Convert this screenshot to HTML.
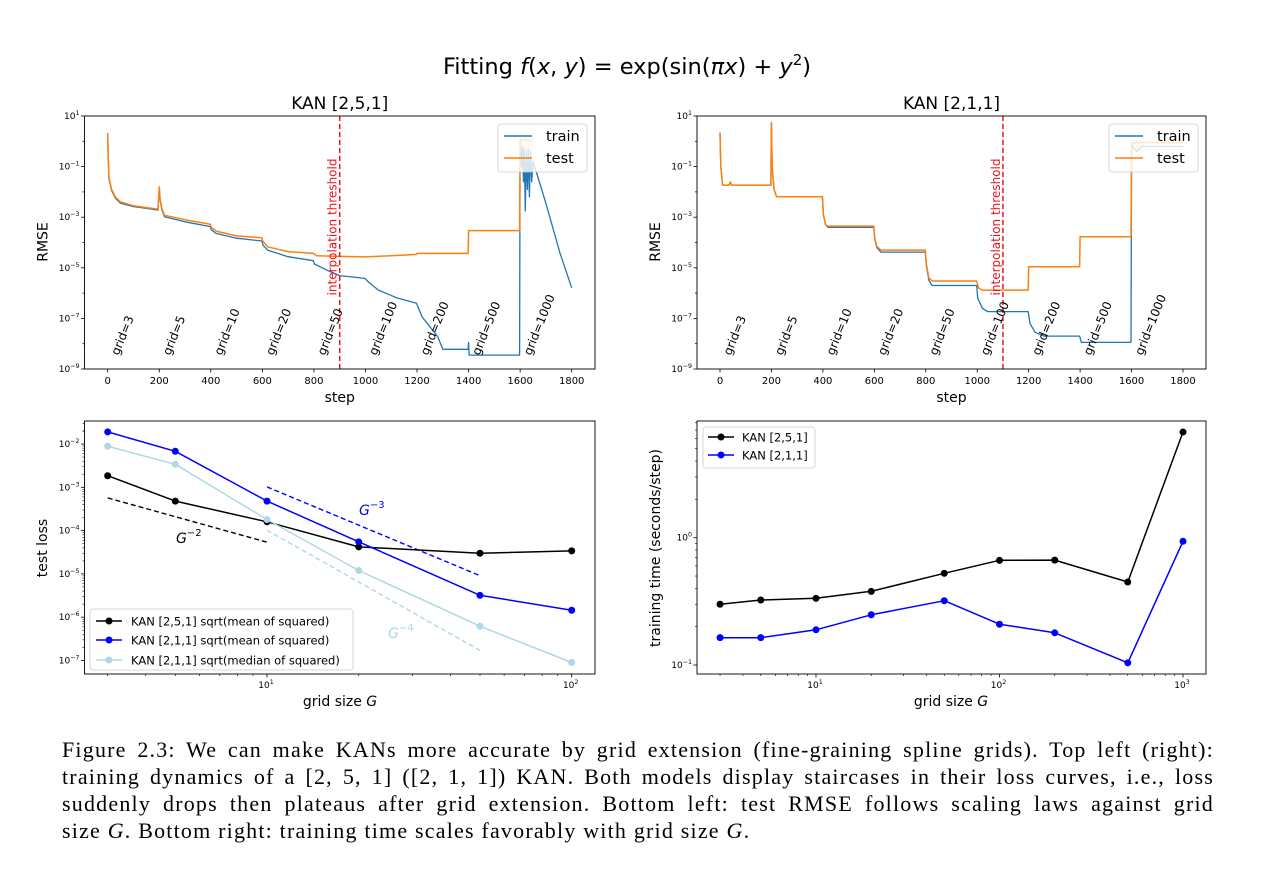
<!DOCTYPE html>
<html><head><meta charset="utf-8">
<style>
html,body{margin:0;padding:0;background:#fff;}
body{width:1270px;height:880px;overflow:hidden;position:relative;}
svg{position:absolute;left:0;top:0;}
text{font-family:"DejaVu Sans","Liberation Sans",sans-serif;}
#caption{position:absolute;left:62px;top:736px;width:1152px;font-family:"Liberation Serif",serif;font-size:22px;letter-spacing:1.2px;line-height:27px;color:#000;}
#caption div{text-align:justify;text-align-last:justify;white-space:nowrap;}
#caption div.last{text-align-last:left;}
</style></head>
<body>
<svg id="fig" width="1270" height="730" viewBox="0 0 1270 730" xmlns="http://www.w3.org/2000/svg"></svg>
<div id="caption">
<div>Figure 2.3: We can make KANs more accurate by grid extension (fine-graining spline grids). Top left (right):</div>
<div>training dynamics of a [2, 5, 1] ([2, 1, 1]) KAN. Both models display staircases in their loss curves, i.e., loss</div>
<div>suddenly drops then plateaus after grid extension. Bottom left: test RMSE follows scaling laws against grid</div>
<div class="last">size <i>G</i>. Bottom right: training time scales favorably with grid size <i>G</i>.</div>
</div>
<script>
// ---------- Top-left data: KAN [2,5,1] (log10 RMSE) ----------
const tlTrainSteps = [0,2,5,15,30,50,100,150,195,200,203,210,220,300,398,402,420,500,598,602,620,700,798,802,850,900,998,1010,1050,1120,1198,1220,1250,1280,1300,1398,1400,1402,1598,1600,1606,1609,1613,1616,1620,1624,1628,1632,1636,1640,1645,1650,1700,1729,1755,1800];
const tlTrainLog = [0.32,-0.6,-1.5,-1.95,-2.25,-2.45,-2.58,-2.65,-2.72,-1.82,-2.3,-2.7,-2.98,-3.18,-3.37,-3.5,-3.64,-3.83,-3.94,-4.1,-4.3,-4.56,-4.72,-4.85,-5.09,-5.31,-5.42,-5.55,-5.88,-6.18,-6.4,-6.95,-7.33,-7.72,-8.22,-8.22,-7.95,-8.45,-8.45,0.05,-1.0,-0.2,-1.6,-0.3,-2.75,-0.4,-1.9,-0.3,-2.2,-0.4,-1.6,-0.78,-2.45,-3.5,-4.43,-5.79];
const tlTestSteps = [0,2,5,15,30,50,100,150,195,200,203,210,220,300,398,402,420,500,598,602,620,700,798,810,900,1000,1100,1198,1200,1398,1400,1598,1600,1650];
const tlTestLog = [0.32,-0.6,-1.45,-1.9,-2.2,-2.4,-2.55,-2.62,-2.68,-1.8,-2.25,-2.65,-2.92,-3.1,-3.28,-3.4,-3.55,-3.74,-3.81,-3.95,-4.17,-4.36,-4.43,-4.52,-4.55,-4.57,-4.52,-4.47,-4.43,-4.43,-3.53,-3.53,0.08,0.03];
// ---------- Top-right data: KAN [2,1,1] ----------
const trTrainSteps = [0,3,10,35,40,45,198,200,203,210,220,398,402,410,420,598,602,610,625,798,802,812,825,998,1002,1020,1040,1198,1205,1225,1260,1398,1405,1598,1600,1620,1640,1800];
const trTrainLog = [0.34,-1.0,-1.73,-1.73,-1.65,-1.73,-1.73,0.74,-1.0,-1.9,-2.19,-2.19,-2.9,-3.3,-3.4,-3.4,-3.9,-4.2,-4.38,-4.38,-4.9,-5.5,-5.7,-5.7,-6.2,-6.6,-6.73,-6.73,-7.2,-7.55,-7.7,-7.7,-7.95,-7.95,-0.15,-0.4,-0.2,-0.2];
const trTestSteps = [0,3,10,35,40,45,198,200,203,210,220,398,402,410,420,598,602,610,625,798,802,812,825,998,1005,1020,1198,1200,1398,1400,1598,1600,1800];
const trTestLog = [0.34,-1.0,-1.73,-1.73,-1.6,-1.73,-1.73,0.74,-1.0,-1.9,-2.19,-2.19,-2.9,-3.3,-3.35,-3.35,-3.85,-4.15,-4.3,-4.3,-4.85,-5.4,-5.52,-5.52,-5.8,-5.88,-5.88,-4.96,-4.96,-3.77,-3.77,-0.05,-0.05];
const gridLabels = ["grid=3","grid=5","grid=10","grid=20","grid=50","grid=100","grid=200","grid=500","grid=1000"];
const stepTicks = [0,200,400,600,800,1000,1200,1400,1600,1800];
const rmseTickExps = [1,-1,-3,-5,-7,-9];
const tlThreshold = 900;
const trThreshold = 1100;
// ---------- Bottom-left data ----------
const blGrid = [3,5,10,20,50,100];
const bl251Mean = [1.85e-3,4.8e-4,1.6e-4,4.2e-5,3.0e-5,3.4e-5];
const bl211Mean = [1.9e-2,6.8e-3,4.8e-4,5.5e-5,3.2e-6,1.45e-6];
const bl211Median = [8.9e-3,3.4e-3,1.8e-4,1.2e-5,6.2e-7,9e-8];
const refG2 = {g:[3,10], v:[5.7e-4,5.4e-5]};
const refG3 = {g:[10,50], v:[1.02e-3,9.1e-6]};
const refG4 = {g:[10,50], v:[1.02e-4,1.7e-7]};
const blYTickExps = [-2,-3,-4,-5,-6,-7];
// ---------- Bottom-right data ----------
const brGrid = [3,5,10,20,50,100,200,500,1000];
const br251Time = [0.30,0.324,0.334,0.379,0.525,0.664,0.667,0.449,6.76];
const br211Time = [0.164,0.164,0.189,0.248,0.32,0.209,0.179,0.104,0.937];
const brYTickExps = [0,-1];

const NS = "http://www.w3.org/2000/svg";
const svg = document.getElementById('fig');
function el(tag, parent){ const e=document.createElementNS(NS,tag); (parent||svg).appendChild(e); return e; }
function set(e, o){ for(const k in o) e.setAttribute(k,o[k]); return e; }
function pow10Label(g,x,y,exp,anchor,size){
  const t=el('text',g); set(t,{x:x,y:y,'font-size':size,'text-anchor':anchor});
  t.appendChild(document.createTextNode('10'));
  const s=el('tspan',t); set(s,{'font-size':size*0.7,dy:-size*0.45}); s.textContent=String(exp).replace('-','\u2212');
  return t;
}
function frame(g,x0,y0,x1,y1){
  const r=el('rect',g); set(r,{x:x0,y:y0,width:x1-x0,height:y1-y0,fill:'none',stroke:'#000','stroke-width':0.9});
   
}
function polyline(g,pts,color,w,dash){
  const p=el('polyline',g); set(p,{points:pts.map(q=>q[0].toFixed(1)+','+q[1].toFixed(1)).join(' '),fill:'none',stroke:color,'stroke-width':w,'stroke-linejoin':'round'});
  if(dash) p.setAttribute('stroke-dasharray',dash);
  return p;
}

// ===== Suptitle =====
{
  const t=el('text'); set(t,{x:627,y:74,'font-size':22.5,'text-anchor':'middle'});
   
  t.innerHTML='Fitting <tspan font-style="italic">f</tspan>(<tspan font-style="italic">x</tspan>, <tspan font-style="italic">y</tspan>) = exp(sin(<tspan font-style="italic">πx</tspan>) + <tspan font-style="italic">y</tspan><tspan font-size="15" dy="-9">2</tspan><tspan dy="9">)</tspan>';
}

// ===== Top panels =====
function topPanel(name,title,x0,x1,zeroX,x1800,trS,trL,teS,teL,thr){
  const g=el('g');  
  const y0=116,y1=369;
  const sx=s=>zeroX+(x1800-zeroX)*s/1800;
  const sy=l=>y0+(1-l)*(y1-y0)/10;
  const cg=el('g',g);  
  const sh=el('rect',cg); set(sh,{x:sx(1600),y:sy(0.05),width:sx(1650)-sx(1600),height:sy(-0.4)-sy(0.05),fill:'#ffd9b8',opacity:0.8});
   
  const tr=polyline(cg,trS.map((s,i)=>[sx(s),sy(trL[i])]),'#1f77b4',1.3);
   
  const te=polyline(cg,teS.map((s,i)=>[sx(s),sy(teL[i])]),'#ff7f0e',1.5);
   
  const th=el('line',cg); set(th,{x1:sx(thr),x2:sx(thr),y1:y0,y2:y1,stroke:'#e8141c','stroke-width':1.5,'stroke-dasharray':'5,3'});
   
  const tt=el('text',cg); set(tt,{x:0,y:0,'font-size':12,fill:'#e8141c','text-anchor':'middle',transform:`translate(${sx(thr)-3},227) rotate(-90)`});
  tt.textContent='interpolation threshold';
   
  gridLabels.forEach((lb,i)=>{
    const t=el('text',cg); set(t,{x:0,y:0,'font-size':12,transform:`translate(${sx(42+200*i)},356) rotate(-68)`});
    t.textContent=lb;
     
  });
  frame(g,x0,y0,x1,y1);
  stepTicks.forEach(s=>{
    const l=el('line',g); set(l,{x1:sx(s),x2:sx(s),y1:y1,y2:y1+3.5,stroke:'#000','stroke-width':0.8});
    const t=el('text',g); set(t,{x:sx(s),y:y1+15,'font-size':10,'text-anchor':'middle'}); t.textContent=s;
     
  });
  for(let e=1;e>=-9;e--){
    const l=el('line',g); set(l,{x1:x0-(e%2?3.5:2),x2:x0,y1:sy(e),y2:sy(e),stroke:'#000','stroke-width':0.8});
  }
  rmseTickExps.forEach(e=>{
    const t=pow10Label(g,x0-5,sy(e)+3,e,'end',9);
     
  });
  const xl=el('text',g); set(xl,{x:(x0+x1)/2,y:402,'font-size':14,'text-anchor':'middle'}); xl.textContent='step';
   
  const yl=el('text',g); set(yl,{x:0,y:0,'font-size':14,'text-anchor':'middle',transform:`translate(${x0-37},242) rotate(-90)`}); yl.textContent='RMSE';
   
  const ti=el('text',g); set(ti,{x:(x0+x1)/2,y:109,'font-size':17,'text-anchor':'middle'}); ti.textContent=title;
   
  const lg=el('g',g);  
  const bx=x1-97;
  const r=el('rect',lg); set(r,{x:bx,y:124,width:89,height:48,rx:3,fill:'#fff','fill-opacity':0.8,stroke:'#ccc','stroke-width':0.8});
  [['train','#1f77b4',136],['test','#ff7f0e',158]].forEach(([n,c,yy])=>{
    const e=el('g',lg);  
    const l=el('line',e); set(l,{x1:bx+6,x2:bx+34,y1:yy,y2:yy,stroke:c,'stroke-width':1.5});
    const t=el('text',e); set(t,{x:bx+48,y:yy+5,'font-size':14.5}); t.textContent=n;
  });
}
topPanel('top-left-panel','KAN [2,5,1]',84.5,595,107.7,571.7,tlTrainSteps,tlTrainLog,tlTestSteps,tlTestLog,tlThreshold);
topPanel('top-right-panel','KAN [2,1,1]',697,1206,720,1183,trTrainSteps,trTrainLog,trTestSteps,trTestLog,trThreshold);

// ===== Bottom-left =====
{
  const g=el('g');  
  const x0=84.5,x1=595,y0=421,y1=674;
  const sx=v=>267+304.7*(Math.log10(v)-1);
  const sy=v=>444-43.3*(Math.log10(v)+2);
  const refs=[[refG2,'#000','ref-line-g2'],[refG3,'#0000ff','ref-line-g3'],[refG4,'#add8e6','ref-line-g4']];
  refs.forEach(([r,c,n])=>{
    const p=polyline(g,r.g.map((gg,i)=>[sx(gg),sy(r.v[i])]),c,1.4,'5,3');
     
  });
  const series=[[bl251Mean,'#000','series-kan-251-mean'],[bl211Mean,'#0000ff','series-kan-211-mean'],[bl211Median,'#add8e6','series-kan-211-median']];
  series.forEach(([vals,c,n])=>{
    const sg=el('g',g);  
    polyline(sg,blGrid.map((gg,i)=>[sx(gg),sy(vals[i])]),c,1.5);
    blGrid.forEach((gg,i)=>{
      const m=el('circle',sg); set(m,{cx:sx(gg),cy:sy(vals[i]),r:3.5,fill:c});
       
    });
  });
  function lab(txt,exp,x,y,c,n){
    const t=el('text',g); set(t,{x:x,y:y,'font-size':14,fill:c});
    t.innerHTML='<tspan font-style="italic">'+txt+'</tspan><tspan font-size="10" dy="-7">\u2212'+exp+'</tspan>';
     
  }
  lab('G',2,176,543,'#000','g2-label');
  lab('G',3,359,515,'#0000ff','g3-label');
  lab('G',4,388,638,'#add8e6','g4-label');
  frame(g,x0,y0,x1,y1);
  [10,100].forEach((v,i)=>{
    const l=el('line',g); set(l,{x1:sx(v),x2:sx(v),y1:y1,y2:y1+3.5,stroke:'#000','stroke-width':0.8});
    const t=pow10Label(g,sx(v)-1,y1+14,i+1,'middle',9);
     
  });
  [3,4,5,6,7,8,9,20,30,40,50,60,70,80,90].forEach(v=>{
    const l=el('line',g); set(l,{x1:sx(v),x2:sx(v),y1:y1,y2:y1+2,stroke:'#000','stroke-width':0.6});
  });
  for(let e=-2;e>=-7;e--) for(let k=1;k<10;k++){
    const v=k*Math.pow(10,e); const yy=sy(v); if(yy<y0||yy>y1) continue;
    const l=el('line',g); set(l,{x1:x0-(k==1?3.5:2),x2:x0,y1:yy,y2:yy,stroke:'#000','stroke-width':k==1?0.8:0.6});
  }
  { const l=el('line',g); set(l,{x1:x0-2,x2:x0,y1:sy(2e-2),y2:sy(2e-2),stroke:'#000','stroke-width':0.6}); }
  blYTickExps.forEach(e=>{
    const t=pow10Label(g,x0-5,sy(Math.pow(10,e))+3,e,'end',9);
     
  });
  const xl=el('text',g); set(xl,{x:340,y:706,'font-size':14,'text-anchor':'middle'});
  xl.innerHTML='grid size <tspan font-style="italic">G</tspan>';
   
  const yl=el('text',g); set(yl,{x:0,y:0,'font-size':14,'text-anchor':'middle',transform:`translate(47,548) rotate(-90)`}); yl.textContent='test loss';
   
  const lg=el('g',g);  
  const r=el('rect',lg); set(r,{x:90,y:609,width:263,height:61,rx:3,fill:'#fff','fill-opacity':0.85,stroke:'#ccc','stroke-width':0.8});
  [['KAN [2,5,1] sqrt(mean of squared)','#000',621],['KAN [2,1,1] sqrt(mean of squared)','#0000ff',640],['KAN [2,1,1] sqrt(median of squared)','#add8e6',660]].forEach(([n,c,yy])=>{
    const e=el('g',lg);  
    const l=el('line',e); set(l,{x1:96,x2:122,y1:yy,y2:yy,stroke:c,'stroke-width':1.5});
    const m=el('circle',e); set(m,{cx:109,cy:yy,r:3.5,fill:c});
    const t=el('text',e); set(t,{x:131,y:yy+4.5,'font-size':11.5}); t.textContent=n;
  });
}

// ===== Bottom-right =====
{
  const g=el('g');  
  const x0=697,x1=1206,y0=421,y1=674;
  const sx=v=>816+183.5*(Math.log10(v)-1);
  const sy=v=>537.7-127.3*Math.log10(v);
  const series=[[br251Time,'#000','series-kan-251'],[br211Time,'#0000ff','series-kan-211']];
  series.forEach(([vals,c,n])=>{
    const sg=el('g',g);  
    polyline(sg,brGrid.map((gg,i)=>[sx(gg),sy(vals[i])]),c,1.5);
    brGrid.forEach((gg,i)=>{
      const m=el('circle',sg); set(m,{cx:sx(gg),cy:sy(vals[i]),r:3.5,fill:c});
       
    });
  });
  frame(g,x0,y0,x1,y1);
  [10,100,1000].forEach((v,i)=>{
    const l=el('line',g); set(l,{x1:sx(v),x2:sx(v),y1:y1,y2:y1+3.5,stroke:'#000','stroke-width':0.8});
    const t=pow10Label(g,sx(v)-1,y1+14,i+1,'middle',9);
     
  });
  [3,4,5,6,7,8,9,20,30,40,50,60,70,80,90,200,300,400,500,600,700,800,900].forEach(v=>{
    const l=el('line',g); set(l,{x1:sx(v),x2:sx(v),y1:y1,y2:y1+2,stroke:'#000','stroke-width':0.6});
  });
  for(let e=-1;e<=0;e++) for(let k=1;k<10;k++){
    const v=k*Math.pow(10,e); const yy=sy(v); if(yy<y0||yy>y1) continue;
    const l=el('line',g); set(l,{x1:x0-(k==1?3.5:2),x2:x0,y1:yy,y2:yy,stroke:'#000','stroke-width':k==1?0.8:0.6});
  }
  brYTickExps.forEach(e=>{
    const t=pow10Label(g,x0-5,sy(Math.pow(10,e))+3,e,'end',9);
     
  });
  const xl=el('text',g); set(xl,{x:951,y:706,'font-size':14,'text-anchor':'middle'});
  xl.innerHTML='grid size <tspan font-style="italic">G</tspan>';
   
  const yl=el('text',g); set(yl,{x:0,y:0,'font-size':14,'text-anchor':'middle',transform:`translate(660,548) rotate(-90)`}); yl.textContent='training time (seconds/step)';
   
  const lg=el('g',g);  
  const r=el('rect',lg); set(r,{x:703,y:427,width:112,height:41,rx:3,fill:'#fff','fill-opacity':0.85,stroke:'#ccc','stroke-width':0.8});
  [['KAN [2,5,1]','#000',437],['KAN [2,1,1]','#0000ff',455]].forEach(([n,c,yy])=>{
    const e=el('g',lg);  
    const l=el('line',e); set(l,{x1:708,x2:734,y1:yy,y2:yy,stroke:c,'stroke-width':1.5});
    const m=el('circle',e); set(m,{cx:721,cy:yy,r:3.5,fill:c});
    const t=el('text',e); set(t,{x:742,y:yy+4.5,'font-size':11.5}); t.textContent=n;
  });
}
</script>
</body></html>
